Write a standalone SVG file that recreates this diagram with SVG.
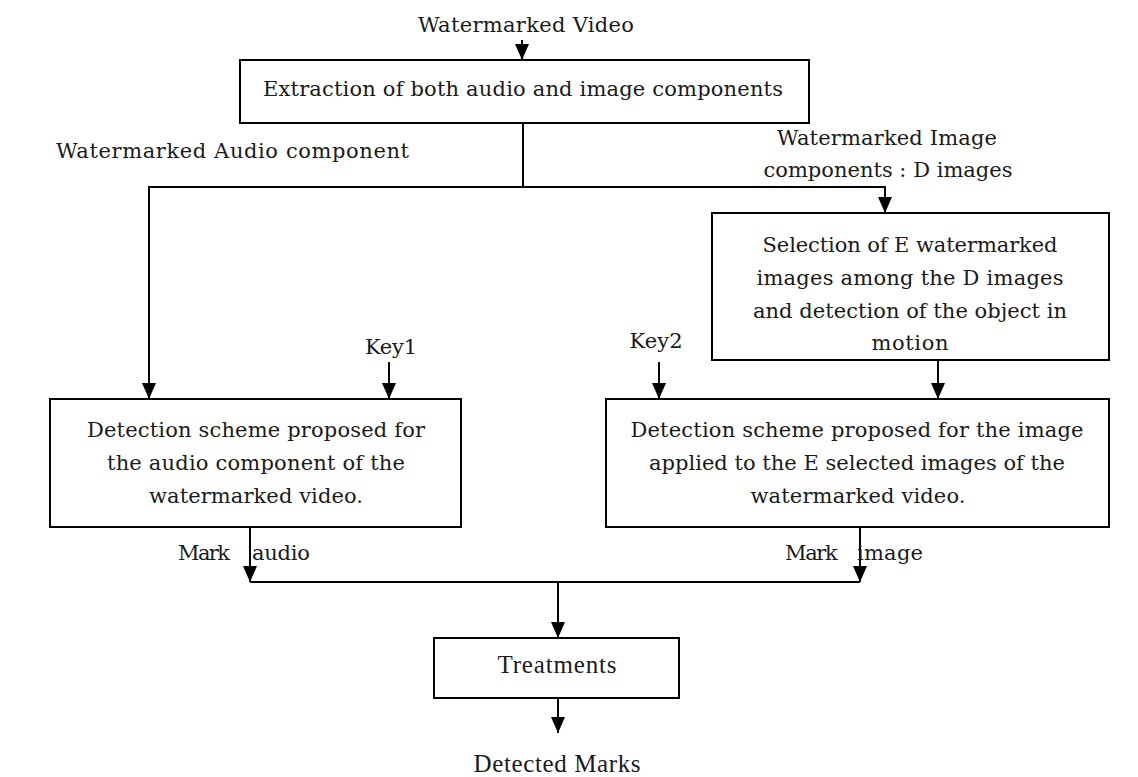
<svg xmlns="http://www.w3.org/2000/svg" width="1138" height="777" viewBox="0 0 1138 777">
<defs>
<marker id="ah" markerUnits="userSpaceOnUse" viewBox="0 0 16 14" refX="16" refY="7" markerWidth="16" markerHeight="14" orient="auto">
<path d="M0,0 L16,7 L0,14 z" fill="#000"/>
</marker>
<style>
.box{fill:#fff;stroke:#000;stroke-width:2}
.ln{fill:none;stroke:#000;stroke-width:2}
.ar{fill:none;stroke:#000;stroke-width:2;marker-end:url(#ah)}
.t{font-family:"DejaVu Serif","Liberation Serif",serif;font-size:21px;fill:#1a1a1a;text-anchor:middle}
.tl{font-family:"DejaVu Serif","Liberation Serif",serif;font-size:21px;fill:#1a1a1a}
.tt{font-family:"Liberation Serif","Times New Roman",serif;font-size:25px;fill:#1a1a1a;text-anchor:middle}
</style>
</defs>
<rect width="1138" height="777" fill="#fff"/>
<g id="connectors">
<path class="ar" d="M522,40 V60"/>
<path class="ln" d="M523,123 V187"/>
<path class="ar" d="M523,187 H149 V399"/>
<path class="ar" d="M523,187 H885 V213"/>
<path class="ar" d="M389,362 V399"/>
<path class="ar" d="M659,362 V399"/>
<path class="ar" d="M938,360 V399"/>
<path class="ar" d="M250,527 V582"/>
<path class="ar" d="M860,527 V582"/>
<path class="ln" d="M250,582 H860"/>
<path class="ar" d="M558,582 V638"/>
<path class="ar" d="M558,698 V733"/>
</g>
<g id="label-watermarked-video">
<text class="t" x="526" y="32" textLength="216">Watermarked Video</text>
</g>
<g id="node-extraction">
<rect class="box" x="240" y="60" width="569" height="63"/>
<text class="t" x="523" y="96" textLength="520">Extraction of both audio and image components</text>
</g>
<g id="label-audio-component">
<text class="tl" x="56" y="158" textLength="353">Watermarked Audio component</text>
</g>
<g id="label-image-components">
<text class="t" x="887" y="145" textLength="220">Watermarked Image</text>
<text class="t" x="888" y="177" textLength="249">components : D images</text>
</g>
<g id="node-selection">
<rect class="box" x="712" y="213" width="397" height="147"/>
<text class="t" x="910" y="252" textLength="295">Selection of E watermarked</text>
<text class="t" x="910" y="285" textLength="307">images among the D images</text>
<text class="t" x="910" y="318" textLength="314">and detection of the object in</text>
<text class="t" x="910" y="350" textLength="77">motion</text>
</g>
<g id="label-key1">
<text class="t" x="391" y="354" textLength="52">Key1</text>
</g>
<g id="label-key2">
<text class="t" x="656" y="348" textLength="53">Key2</text>
</g>
<g id="node-audio-detection">
<rect class="box" x="50" y="399" width="411" height="128"/>
<text class="t" x="256" y="437" textLength="338">Detection scheme proposed for</text>
<text class="t" x="256" y="470" textLength="298">the audio component of the</text>
<text class="t" x="256" y="503" textLength="214">watermarked video.</text>
</g>
<g id="node-image-detection">
<rect class="box" x="606" y="399" width="503" height="128"/>
<text class="t" x="857" y="437" textLength="453">Detection scheme proposed for the image</text>
<text class="t" x="857" y="470" textLength="416">applied to the E selected images of the</text>
<text class="t" x="858" y="503" textLength="215">watermarked video.</text>
</g>
<g id="label-mark-audio">
<text class="tl" y="560"><tspan x="178" textLength="57">Mark </tspan><tspan x="252" textLength="58">audio</tspan></text>
</g>
<g id="label-mark-image">
<text class="tl" y="560"><tspan x="785" textLength="58">Mark </tspan><tspan x="857" textLength="66">image</tspan></text>
</g>
<g id="node-treatments">
<rect class="box" x="434" y="638" width="245" height="60"/>
<text class="tt" x="557" y="673" textLength="119">Treatments</text>
</g>
<g id="label-detected-marks">
<text class="tt" x="557" y="772" textLength="167">Detected Marks</text>
</g>
</svg>
